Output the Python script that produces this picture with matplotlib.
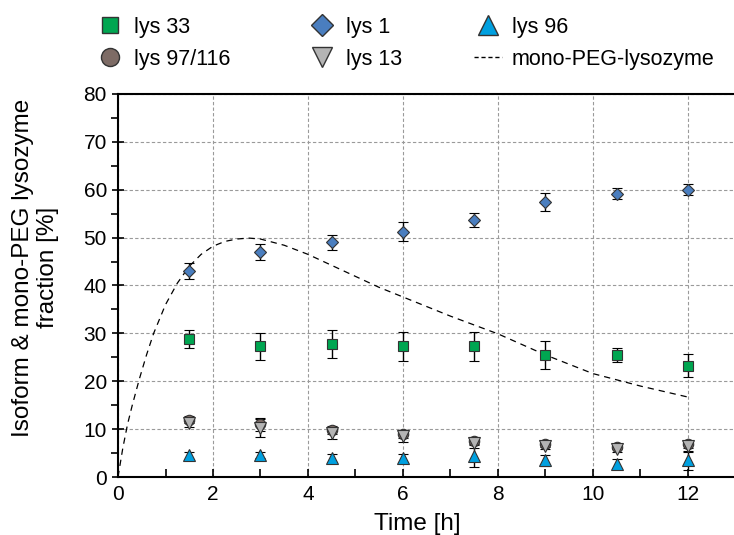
import matplotlib
matplotlib.use("Agg")
from matplotlib import pyplot as plt
from matplotlib.ticker import MultipleLocator
from matplotlib.lines import Line2D

plt.rcParams['font.family'] = ['Liberation Sans', 'DejaVu Sans']

t = [1.5, 3, 4.5, 6, 7.5, 9, 10.5, 12]

lys1 = [43.0, 47.0, 49.0, 51.2, 53.7, 57.5, 59.2, 60.0]
lys1_err = [1.6, 1.6, 1.6, 2.0, 1.4, 1.9, 1.1, 1.1]
lys33 = [28.8, 27.3, 27.8, 27.3, 27.3, 25.5, 25.5, 23.2]
lys33_err = [1.9, 2.8, 3.0, 3.0, 3.0, 3.0, 1.5, 2.4]
lys97 = [12.0, 11.0, 9.8, 8.9, 7.6, 6.8, 6.3, 6.8]
lys97_err = [0.8, 1.3, 0.9, 0.8, 0.7, 0.5, 0.5, 0.8]
lys13 = [11.3, 10.3, 9.2, 8.5, 7.0, 6.5, 5.9, 6.4]
lys13_err = [0.9, 1.9, 1.2, 1.1, 1.0, 0.6, 0.7, 1.1]
lys96 = [4.5, 4.6, 4.0, 4.0, 4.3, 3.5, 2.8, 3.5]
lys96_err = [0.8, 0.6, 0.8, 0.8, 2.3, 1.2, 1.0, 2.0]

# mono-PEG curve
peg_t = [0, 0.1, 0.2, 0.3, 0.45, 0.6, 0.75, 1.0, 1.25, 1.5, 1.75, 2.0, 2.25, 2.5,
         2.75, 3.0, 3.5, 4.0, 4.5, 5.0, 5.5, 6.0, 7.0, 8.0, 9.0, 10.0, 11.0, 12.0]
peg_y = [0, 6.0, 11.0, 15.0, 20.5, 25.5, 30.0, 36.0, 40.5, 44.0, 46.5, 48.2, 49.2, 49.7,
         49.9, 49.7, 48.4, 46.5, 44.2, 41.9, 39.6, 37.6, 33.6, 29.9, 25.5, 21.6, 19.0, 16.7]

c33 = '#00a651'
c1 = '#4a7ebf'
c97 = '#7d6b65'
c13 = '#b4b4b4'
c96 = '#00a0e0'
edge = '#333333'

fig = plt.figure(figsize=(7.34, 5.35), dpi=100)
ax = fig.add_axes([0.1608, 0.1084, 0.841, 0.716])

eb = dict(ecolor='black', elinewidth=1.0, capsize=3.5, capthick=1.0, linestyle='none',
          markeredgecolor=edge, markeredgewidth=0.8, zorder=3)

ax.errorbar(t, lys33, yerr=lys33_err, marker='s', ms=7.5, color=c33, **eb)
ax.errorbar(t, lys1, yerr=lys1_err, marker='D', ms=6.5, color=c1, **eb)
ax.errorbar(t, lys97, yerr=lys97_err, marker='o', ms=7.5, color=c97, **eb)
ax.errorbar(t, lys13, yerr=lys13_err, marker='v', ms=8.5, color=c13, **eb)
ax.errorbar(t, lys96, yerr=lys96_err, marker='^', ms=8.5, color=c96, **eb)
ax.plot(peg_t, peg_y, color='black', linestyle=(0, (5, 4)), linewidth=0.9, zorder=2)

ax.set_xlim(0, 13)
ax.set_ylim(0, 80)
ax.xaxis.set_major_locator(MultipleLocator(2))
ax.xaxis.set_minor_locator(MultipleLocator(1))
ax.yaxis.set_major_locator(MultipleLocator(10))
ax.yaxis.set_minor_locator(MultipleLocator(5))
ax.tick_params(axis='x', which='both', direction='in', length=6, width=1.2, labelsize=15, pad=6)
ax.tick_params(axis='y', which='major', direction='inout', length=9, width=1.2, labelsize=15)
ax.tick_params(axis='y', which='minor', direction='out', length=5, width=1.2)
ax.grid(True, which='major', color='#9a9a9a', linestyle=(0, (3, 2)), linewidth=0.8)
for s in ['left', 'bottom', 'top']:
    ax.spines[s].set_linewidth(1.5)
ax.spines['right'].set_visible(False)

ax.set_xlabel('Time [h]', fontsize=17.5)
ax.xaxis.set_label_coords(0.485, -0.094)
ax.set_ylabel('Isoform & mono-PEG lysozyme\nfraction [%]', fontsize=17.5)
ax.yaxis.set_label_coords(-0.095, 0.546)

def mk(marker, color, ms):
    return Line2D([], [], marker=marker, color=color, markeredgecolor=edge,
                  markeredgewidth=1.0, ms=ms, linestyle='none')

cols = [
    ([mk('s', c33, 12), mk('o', c97, 13)], ['lys 33', 'lys 97/116'], 96),
    ([mk('D', c1, 11.5), mk('v', c13, 14)], ['lys 1', 'lys 13'], 308),
    ([mk('^', c96, 14), Line2D([], [], color='black', linestyle=(0, (3, 2)), linewidth=1.0)],
     ['lys 96', 'mono-PEG-lysozyme'], 474),
]
for hs, ls, x0 in cols:
    leg = fig.legend(hs, ls, loc='upper left', bbox_to_anchor=(x0 / 734, 1 - 17 / 535),
                     frameon=False, fontsize=15.5, handlelength=1.3, handletextpad=0.45,
                     labelspacing=0.5, borderpad=0, borderaxespad=0)

fig.savefig('out.png', dpi=100)
